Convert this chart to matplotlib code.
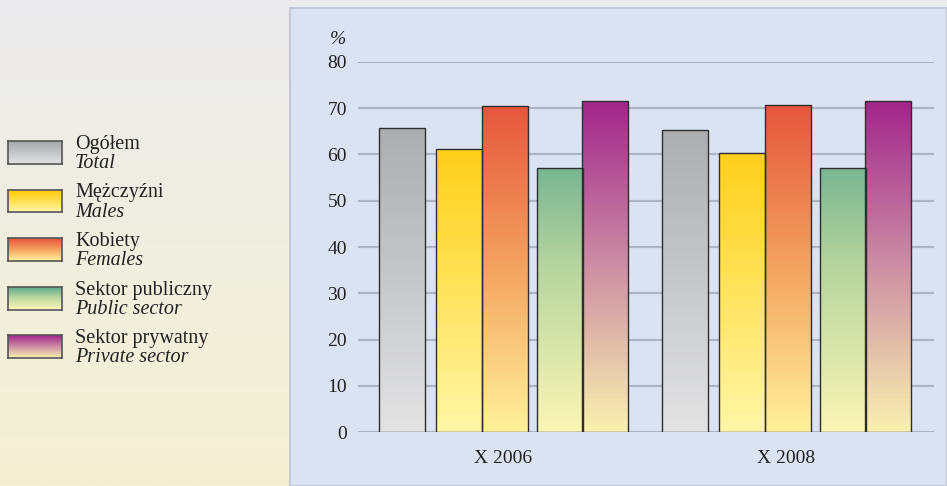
import numpy as np
import matplotlib.pyplot as plt
from matplotlib.colors import LinearSegmentedColormap
from matplotlib.patches import Rectangle

# ---------------------------------------------------------------------
# Data
# ---------------------------------------------------------------------

groups = ["X 2006", "X 2008"]

series_pl = ["Ogółem", "Mężczyźni", "Kobiety", "Sektor publiczny", "Sektor prywatny"]
series_en = ["Total", "Males", "Females", "Public sector", "Private sector"]

total = [65.8, 65.3]
males = [61.2, 60.4]
females = [70.4, 70.6]
public = [57.0, 57.1]
private = [71.6, 71.6]

values = [total, males, females, public, private]

# gradient colours, top -> bottom
gradients = [
    ["#a7a8ab", "#c4c5c7", "#e3e3e4"],
    ["#ffc700", "#ffe050", "#fff6a8"],
    ["#e5533b", "#f3a260", "#fff29a"],
    ["#4e9f8b", "#b6d49e", "#fbf6b6"],
    ["#a1248a", "#cc8ea4", "#f9f1b0"],
]

plt.rcParams["font.family"] = ["Liberation Serif", "DejaVu Serif"]

W, H = 947, 486
fig = plt.figure(figsize=(W / 100, H / 100), dpi=100)

# ---------------------------------------------------------------------
# Backgrounds
# ---------------------------------------------------------------------

bg = fig.add_axes([0, 0, 1, 1])
bg_cmap = LinearSegmentedColormap.from_list("bg", ["#ebebee", "#f0eee0", "#f5f0d3"])
bg.imshow(np.linspace(0, 1, 256).reshape(-1, 1), aspect="auto", cmap=bg_cmap,
          extent=[0, 1, 0, 1], origin="upper")
bg.set_xlim(0, 1)
bg.set_ylim(0, 1)
bg.axis("off")

panel = Rectangle((290 / W, 0), (W - 290) / W, (H - 8) / H,
                  transform=fig.transFigure, facecolor="#dbe3f2",
                  edgecolor="#c3c9d6", linewidth=1.5, zorder=1)
bg.add_patch(panel)

# ---------------------------------------------------------------------
# Chart
# ---------------------------------------------------------------------

ax = fig.add_axes([358 / W, (H - 432) / H, (934 - 358) / W, (432 - 62) / H])
ax.set_facecolor("none")

offsets = [-0.360, -0.157, 0.005, 0.198, 0.359]
width = 0.1625
x = np.arange(len(groups))

for vals, off, cols in zip(values, offsets, gradients):
    cmap = LinearSegmentedColormap.from_list("g", cols)
    bars = ax.bar(x + off, vals, width=width, facecolor="none",
                  edgecolor="#2e2e2e", linewidth=1.0, zorder=4)
    for b in bars:
        x0 = b.get_x()
        w = b.get_width()
        # gradient spans a fixed range so all bars share one scale
        img = ax.imshow(np.linspace(0, 1, 256).reshape(-1, 1), aspect="auto",
                        cmap=cmap, extent=[x0, x0 + w, 0, 72],
                        origin="upper", zorder=3)
        img.set_clip_path(b)

ax.set_xlim(-0.514, 1.521)
ax.set_ylim(0, 80)
ax.set_yticks(np.arange(0, 81, 10))
ax.yaxis.grid(True, color="#aeb4c6", linewidth=1.6, zorder=0)
ax.set_axisbelow(True)
for s in ax.spines.values():
    s.set_visible(False)
ax.tick_params(axis="both", length=0, labelsize=14, colors="#222222")
ax.tick_params(axis="y", pad=8)
ax.tick_params(axis="x", pad=13)
ax.set_xticks(x)
ax.set_xticklabels(groups)

fig.text(338 / W, 1 - 40 / H, "%", fontsize=14, style="italic",
         ha="center", va="center", color="#222222")

# ---------------------------------------------------------------------
# Legend
# ---------------------------------------------------------------------

for i, (pl, en, cols) in enumerate(zip(series_pl, series_en, gradients)):
    top = 141 + i * 48.5
    cmap = LinearSegmentedColormap.from_list("l", cols)
    lax = fig.add_axes([8 / W, 1 - (top + 23) / H, 54 / W, 23 / H])
    lax.imshow(np.linspace(0, 1, 64).reshape(-1, 1), aspect="auto", cmap=cmap)
    lax.set_xticks([])
    lax.set_yticks([])
    for s in lax.spines.values():
        s.set_color("#555555")
        s.set_linewidth(1.2)
    fig.text(75 / W, 1 - (top + 8) / H, pl, fontsize=14.5, ha="left",
             va="baseline", color="#222222")
    fig.text(75 / W, 1 - (top + 27) / H, en, fontsize=14.5, style="italic",
             ha="left", va="baseline", color="#222222")

fig.savefig("out.png", dpi=100)
